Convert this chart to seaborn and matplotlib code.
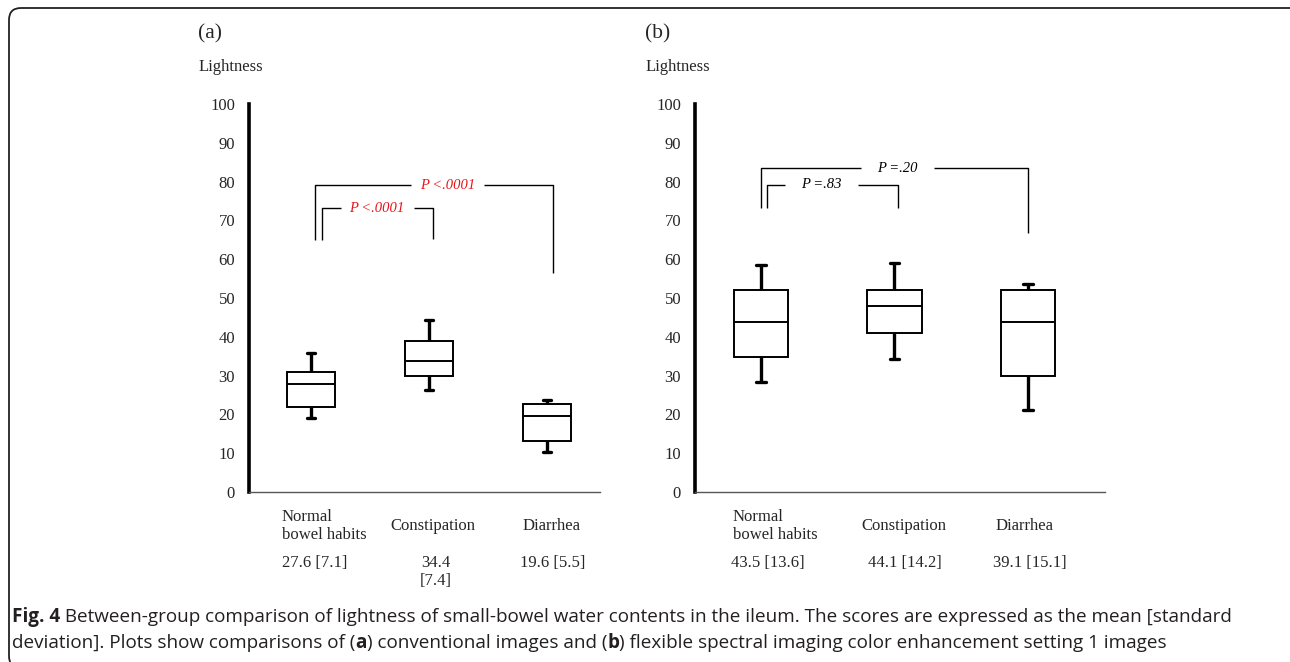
import numpy as np
import pandas as pd
import seaborn as sns
from matplotlib import pyplot as plt
from matplotlib.patches import FancyBboxPatch
from matplotlib.transforms import IdentityTransform, blended_transform_factory

# categories and five-number summaries
# (low whisker, Q1, median, Q3, high whisker)
groups = ["Normal\nbowel habits", "Constipation", "Diarrhea"]

conv_normal = [19.0, 21.8, 27.9, 30.8, 35.9]
conv_constip = [26.4, 29.8, 33.8, 38.8, 44.4]
conv_diarrhea = [10.3, 13.1, 19.5, 22.8, 23.8]

fice_normal = [28.4, 34.9, 43.9, 52.0, 58.5]
fice_constip = [34.3, 41.1, 48.0, 52.0, 58.9]
fice_diarrhea = [21.2, 29.8, 43.9, 52.0, 53.6]

conv_means = ["27.6 [7.1]", "34.4\n[7.4]", "19.6 [5.5]"]
fice_means = ["43.5 [13.6]", "44.1 [14.2]", "39.1 [15.1]"]

# p-values: (Normal vs Constipation, Normal vs Diarrhea)
conv_p = ["P <.0001", "P <.0001"]
fice_p = ["P =.83", "P =.20"]

yticks = list(range(0, 101, 10))

SERIF = ["Liberation Serif", "DejaVu Serif"]
plt.rcParams["font.family"] = SERIF


def long_df(series):
    rows = []
    for g, vals in zip(groups, series):
        for v in vals:
            rows.append({"group": g, "value": v})
    return pd.DataFrame(rows)


def draw_panel(ax, df, xlim, means, brackets, label_dx, mean_dx):
    sns.boxplot(data=df, x="group", y="value", order=groups, whis=(0, 100),
                width=0.41, color="white", linecolor="black", linewidth=1.4,
                capwidths=0.07, whiskerprops={"linewidth": 2.4},
                capprops={"linewidth": 2.4}, ax=ax)
    ax.set_xlim(*xlim)
    ax.set_ylim(0, 100)
    ax.set_yticks(yticks)
    ax.set_xticks([])
    ax.set_xlabel("")
    ax.set_ylabel("")
    for s in ["top", "right"]:
        ax.spines[s].set_visible(False)
    ax.spines["left"].set_linewidth(2.6)
    ax.spines["left"].set_color("black")
    ax.spines["bottom"].set_linewidth(1.0)
    ax.spines["bottom"].set_color("#555555")
    ax.tick_params(axis="y", direction="out", length=4, width=1.8, pad=6,
                   labelsize=12)
    ax.patch.set_alpha(0)

    tr = blended_transform_factory(ax.transData, ax.transAxes)
    for i, g in enumerate(groups):
        ax.annotate(g, xy=(i, 0), xycoords=tr, xytext=(label_dx[i], -34),
                    textcoords="offset pixels", ha="center", va="center",
                    multialignment="left", fontsize=12, linespacing=1.15,
                    annotation_clip=False)
        ax.annotate(means[i], xy=(i, 0), xycoords=tr, xytext=(mean_dx[i], -63),
                    textcoords="offset pixels", ha="center", va="top",
                    multialignment="center", fontsize=12, linespacing=1.15,
                    annotation_clip=False)

    px_per_unit = ax.bbox.width / (xlim[1] - xlim[0])
    half_gap = 36.5 / px_per_unit
    for x0, x1, ytop, yl, yr, tx, txt, col in brackets:
        kw = dict(color="black", lw=1.0, clip_on=False, solid_capstyle="butt")
        ax.plot([x0, x0, tx - half_gap], [yl, ytop, ytop], **kw)
        ax.plot([tx + half_gap, x1, x1], [ytop, ytop, yr], **kw)
        ax.text(tx, ytop, txt, ha="center", va="center", style="italic",
                fontsize=10.5, color=col)


fig = plt.figure(figsize=(12.9, 6.62), dpi=100)
sns.set_style("white")
plt.rcParams["font.family"] = SERIF

W, H = 1290, 662
ax_a = fig.add_axes([249 / W, 1 - 492 / H, 351 / W, 388 / H])
ax_b = fig.add_axes([695 / W, 1 - 492 / H, 410 / W, 388 / H])

df_a = long_df([conv_normal, conv_constip, conv_diarrhea])
df_b = long_df([fice_normal, fice_constip, fice_diarrhea])

RED = "#e8141b"
draw_panel(
    ax_a, df_a, (-0.525, 2.449), conv_means,
    [(0.09, 1.03, 73.1, 65.0, 65.2, 0.56, conv_p[0], RED),
     (0.03, 2.05, 79.1, 65.0, 56.4, 1.16, conv_p[1], RED)],
    label_dx=[13, 4, 5], mean_dx=[4, 7, 6])
draw_panel(
    ax_b, df_b, (-0.494, 2.577), fice_means,
    [(0.045, 1.03, 79.2, 73.1, 73.3, 0.45, fice_p[0], "black"),
     (0.0, 2.0, 83.4, 73.1, 66.7, 1.02, fice_p[1], "black")],
    label_dx=[14, 9, -3], mean_dx=[7, 10, 2])

# panel letters and y-axis titles
for x_px, letter in [(198, "(a)"), (645, "(b)")]:
    fig.text(x_px / W, 1 - 34 / H, letter, ha="left", va="center", fontsize=15.5)
    fig.text((x_px + 1) / W, 1 - 67 / H, "Lightness", ha="left", va="center",
             fontsize=12)

# caption with bold runs
CAP = ["Open Sans", "DejaVu Sans"]
cap_color = "#231f20"
line1 = [("Fig. 4", "bold"),
         (" Between-group comparison of lightness of small-bowel water contents"
          " in the ileum. The scores are expressed as the mean [standard", "normal")]
line2 = [("deviation]. Plots show comparisons of (", "normal"), ("a", "bold"),
         (") conventional images and (", "normal"), ("b", "bold"),
         (") flexible spectral imaging color enhancement setting 1 images", "normal")]

renderer = fig.canvas.get_renderer()


def draw_line(parts, y_px, size):
    x = 12
    arts = []
    for txt, wt in parts:
        t = fig.text(x / W, 1 - y_px / H, txt, ha="left", va="center",
                     fontsize=size, fontweight=wt, color=cap_color, family=CAP)
        bb = t.get_window_extent(renderer)
        x += bb.width
        arts.append(t)
    return x - 12, arts


w, arts = draw_line(line1, 617, 12)
for a in arts:
    a.remove()
cap_size = 12 * 1213 / w
draw_line(line1, 617, cap_size)
draw_line(line2, 643, cap_size)

# rounded frame around the figure (right and bottom edges lie outside the crop)
frame = FancyBboxPatch((9, -6), 1300, 660,
                       boxstyle="round,pad=0,rounding_size=12",
                       transform=IdentityTransform(), fc="none",
                       ec="#222222", lw=1.3)
fig.patches.append(frame)

fig.savefig("out.png", dpi=100)
